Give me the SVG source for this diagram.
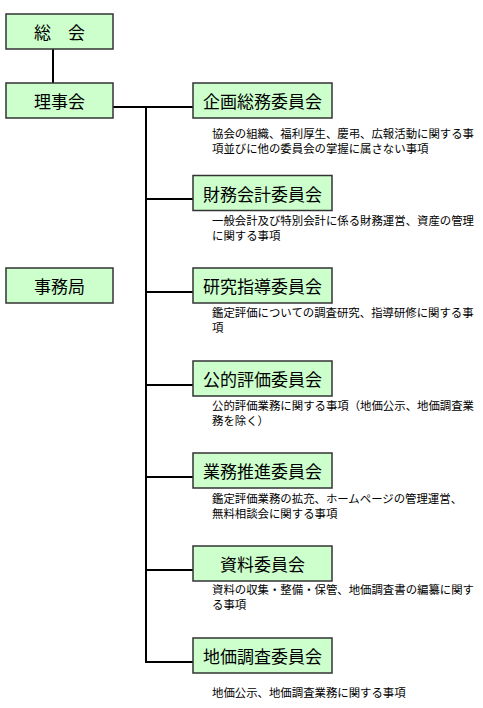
<svg xmlns="http://www.w3.org/2000/svg" width="483" height="708" viewBox="0 0 483 708">
<style>
.box{fill:#ccffcc;stroke:#333;stroke-width:1.5}
.lbl{font-family:"Noto Sans CJK JP","Noto Sans CJK SC",sans-serif;font-size:17px;fill:#000;text-anchor:middle;dominant-baseline:central}
.desc{font-family:"Noto Sans CJK JP","Noto Sans CJK SC",sans-serif;font-size:11.4px;fill:#000;dominant-baseline:central}
.ln{stroke:#000;stroke-width:2;fill:none}
</style>
<rect width="483" height="708" fill="#fff"/>
<g id="connectors">
<line class="ln" x1="53" y1="49" x2="53" y2="83"/>
<line class="ln" x1="113" y1="107" x2="193" y2="107"/>
<line class="ln" x1="146" y1="106" x2="146" y2="663"/>
<line class="ln" x1="146" y1="199" x2="193" y2="199"/>
<line class="ln" x1="146" y1="292" x2="193" y2="292"/>
<line class="ln" x1="146" y1="385" x2="193" y2="385"/>
<line class="ln" x1="146" y1="477" x2="193" y2="477"/>
<line class="ln" x1="146" y1="570" x2="193" y2="570"/>
<line class="ln" x1="145" y1="662" x2="193" y2="662"/>
</g>
<g id="soukai"><rect class="box" x="6" y="14" width="107" height="35"/><text class="lbl" x="59.5" y="31.5">総　会</text></g>
<g id="rijikai"><rect class="box" x="6" y="83" width="107" height="35"/><text class="lbl" x="59.5" y="100.5">理事会</text></g>
<g id="jimukyoku"><rect class="box" x="6" y="268" width="107" height="35"/><text class="lbl" x="59.5" y="285.5">事務局</text></g>
<g id="kikaku">
<rect class="box" x="193" y="83" width="139" height="35"/><text class="lbl" x="262.5" y="100.5">企画総務委員会</text>
<text class="desc" x="212" y="132.5">協会の組織、福利厚生、慶弔、広報活動に関する事</text>
<text class="desc" x="212" y="147.5">項並びに他の委員会の掌握に属さない事項</text>
</g>
<g id="zaimu">
<rect class="box" x="193" y="175.5" width="139" height="35"/><text class="lbl" x="262.5" y="193">財務会計委員会</text>
<text class="desc" x="212" y="220">一般会計及び特別会計に係る財務運営、資産の管理</text>
<text class="desc" x="212" y="235">に関する事項</text>
</g>
<g id="kenkyu">
<rect class="box" x="193" y="268" width="139" height="35"/><text class="lbl" x="262.5" y="285.5">研究指導委員会</text>
<text class="desc" x="212" y="312">鑑定評価についての調査研究、指導研修に関する事</text>
<text class="desc" x="212" y="327">項</text>
</g>
<g id="kouteki">
<rect class="box" x="193" y="361" width="139" height="35"/><text class="lbl" x="262.5" y="378.5">公的評価委員会</text>
<text class="desc" x="212" y="405">公的評価業務に関する事項（地価公示、地価調査業</text>
<text class="desc" x="212" y="420">務を除く）</text>
</g>
<g id="gyomu">
<rect class="box" x="193" y="453" width="139" height="35"/><text class="lbl" x="262.5" y="470.5">業務推進委員会</text>
<text class="desc" x="212" y="497.5">鑑定評価業務の拡充、ホームページの管理運営、</text>
<text class="desc" x="212" y="512.5">無料相談会に関する事項</text>
</g>
<g id="shiryo">
<rect class="box" x="193" y="546" width="139" height="35"/><text class="lbl" x="262.5" y="563.5">資料委員会</text>
<text class="desc" x="212" y="589">資料の収集・整備・保管、地価調査書の編纂に関す</text>
<text class="desc" x="212" y="604">る事項</text>
</g>
<g id="chika">
<rect class="box" x="193" y="638" width="139" height="35"/><text class="lbl" x="262.5" y="655.5">地価調査委員会</text>
<text class="desc" x="212" y="692">地価公示、地価調査業務に関する事項</text>
</g>
</svg>
